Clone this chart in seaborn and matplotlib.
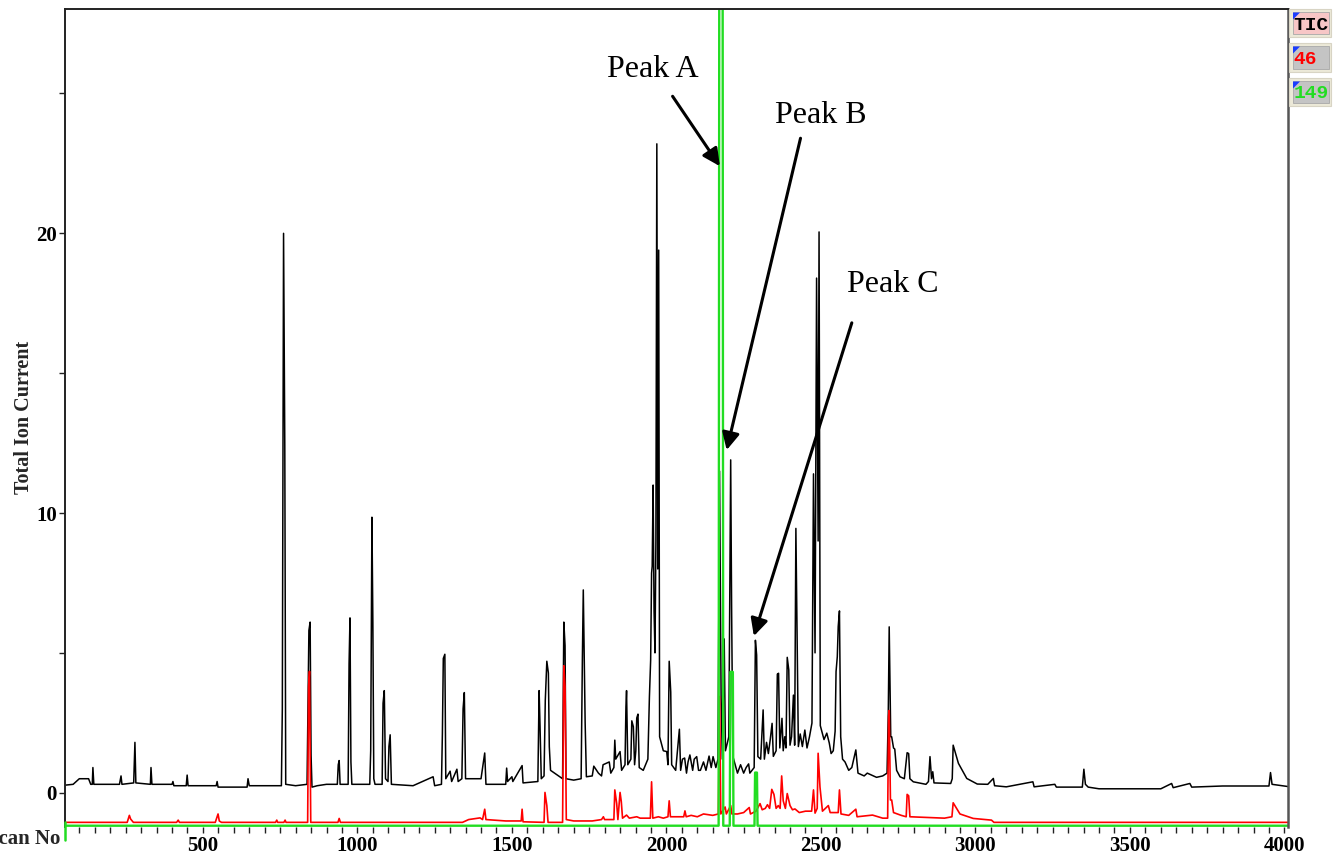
import matplotlib
matplotlib.use('Agg')
import numpy as np
import pandas as pd
import matplotlib.pyplot as plt
import seaborn as sns
from matplotlib.ticker import MultipleLocator
from matplotlib.patches import Rectangle, Polygon
from matplotlib.lines import Line2D

# ---------------- data ----------------
tic_scan = [54, 80, 100, 130, 137, 142, 144, 147, 230, 235, 238, 276, 280, 283, 330, 332, 335,
            400, 403, 406, 446, 449, 452, 543, 546, 549, 643, 646, 650, 754, 757, 761, 765, 768,
            800, 837, 840, 843, 847, 850, 853, 870, 900, 935, 938, 941, 944, 970, 973, 976, 979,
            982, 1040, 1043, 1047, 1050, 1053, 1057, 1080, 1083, 1087, 1091, 1099, 1102, 1106,
            1110, 1180, 1245, 1250, 1272, 1275, 1278, 1283, 1286, 1300, 1305, 1322, 1326, 1338,
            1342, 1346, 1350, 1400, 1412, 1416, 1480, 1483, 1486, 1500, 1503, 1533, 1536, 1584,
            1588, 1591, 1595, 1604, 1608, 1613, 1618, 1621, 1625, 1664, 1668, 1672, 1675, 1700,
            1724, 1728, 1731, 1737, 1741, 1760, 1765, 1780, 1790, 1795, 1815, 1820, 1830, 1833,
            1836, 1850, 1855, 1866, 1869, 1871, 1875, 1885, 1888, 1893, 1897, 1901, 1904, 1908,
            1912, 1925, 1940, 1945, 1949, 1952, 1954, 1957, 1960, 1963, 1966, 1969, 1972, 1975,
            1978, 1990, 2001, 2005, 2009, 2014, 2017, 2030, 2042, 2046, 2052, 2059, 2065, 2070,
            2076, 2085, 2090, 2098, 2104, 2110, 2120, 2128, 2138, 2145, 2151, 2160, 2167, 2172,
            2177, 2181, 2187, 2191, 2202, 2208, 2211, 2215, 2230, 2240, 2250, 2258, 2266, 2270,
            2284, 2288, 2292, 2296, 2305, 2313, 2317, 2324, 2330, 2336, 2342, 2346, 2355, 2359,
            2363, 2367, 2374, 2378, 2383, 2387, 2391, 2396, 2400, 2405, 2411, 2415, 2419, 2423,
            2427, 2433, 2440, 2448, 2455, 2463, 2471, 2476, 2481, 2486, 2491, 2494, 2498, 2510,
            2519, 2527, 2533, 2540, 2546, 2549, 2553, 2556, 2560, 2564, 2570, 2578, 2590, 2600,
            2613, 2620, 2640, 2650, 2680, 2700, 2714, 2718, 2721, 2726, 2729, 2735, 2739, 2745,
            2756, 2770, 2779, 2784, 2788, 2799, 2840, 2848, 2853, 2858, 2862, 2866, 2920, 2925,
            2928, 2945, 2972, 3006, 3040, 3058, 3062, 3100, 3186, 3190, 3257, 3262, 3346, 3351,
            3356, 3365, 3400, 3600, 3635, 3640, 3694, 3700, 3800, 3950, 3955, 3960, 4012]
tic_val = [0.27, 0.3, 0.5, 0.5, 0.3, 0.3, 0.9, 0.3, 0.3, 0.6, 0.3, 0.35, 1.8, 0.35, 0.3, 0.9, 0.3,
           0.3, 0.4, 0.25, 0.25, 0.63, 0.25, 0.25, 0.4, 0.2, 0.2, 0.5, 0.25, 0.25, 3.0, 20.0, 12.4, 0.3,
           0.25, 0.3, 3.2, 5.8, 6.1, 1.35, 0.2, 0.25, 0.3, 0.3, 1.0, 1.15, 0.3, 0.3, 4.6, 6.25, 1.1,
           0.3, 0.3, 1.5, 9.85, 6.1, 0.5, 0.3, 0.3, 3.2, 3.65, 0.5, 0.4, 1.65, 2.07,
           0.3, 0.25, 0.57, 0.25, 0.3, 2.1, 4.8, 4.95, 0.5, 0.77, 0.4, 0.84, 0.4, 0.5,
           3.0, 3.58, 0.5, 0.5, 1.42, 0.3, 0.3, 0.88, 0.4, 0.57, 0.4, 0.97, 0.35, 0.4,
           3.65, 2.38, 0.5, 0.6, 3.3, 4.7, 4.28, 1.65, 0.8, 0.5, 6.1, 5.26, 0.5, 0.45,
           0.5, 4.74, 7.25, 2.5, 0.57, 0.6, 0.95, 0.7, 0.6, 1.0, 1.1, 0.7, 0.9, 1.88,
           1.2, 1.47, 0.8, 1.0, 3.07, 3.65, 1.0, 1.2, 2.57, 2.36, 1.0, 1.5, 2.67, 2.81,
           0.9, 0.8, 1.2, 3.43, 4.74, 7.85, 8.1, 11.0, 6.5, 5.0, 9.0, 23.2, 8.0, 19.4,
           2.0, 1.5, 1.47, 1.0, 4.7, 3.6, 1.0, 0.8, 2.27, 0.8, 1.2, 1.24, 0.7, 1.1,
           1.35, 0.8, 1.2, 1.29, 0.8, 0.8, 1.1, 0.8, 1.31, 0.9, 1.29, 0.9, 1.2, 11.5,
           3.4, 1.2, 5.5, 1.5, 2.0, 11.9, 6.6, 1.3, 0.7, 1.0, 0.7, 0.9, 1.03, 0.7,
           0.9, 5.45, 4.92, 1.29, 1.2, 2.96, 1.2, 1.8, 1.4, 1.9, 2.48, 1.3, 1.5, 4.24,
           4.27, 1.6, 2.66, 1.5, 2.0, 1.6, 4.84, 4.39, 1.7, 2.0, 3.49, 1.7, 9.45, 5.7,
           1.65, 2.1, 1.65, 2.24, 1.6, 2.0, 2.49, 11.4, 5.0, 18.4, 9.0, 20.05, 2.4, 1.9,
           2.13, 1.78, 1.4, 1.5, 2.2, 4.33, 4.86, 5.94, 6.5, 2.0, 1.2, 1.1, 0.8, 0.9,
           1.53, 0.7, 0.6, 0.7, 0.55, 0.6, 0.7, 2.84, 5.93, 2.0, 2.0, 1.6, 1.56, 0.8,
           0.57, 0.5, 1.43, 1.4, 0.5, 0.39, 0.3, 0.4, 1.29, 0.5, 0.75, 0.35, 0.33, 0.5,
           1.7, 1.05, 0.51, 0.31, 0.3, 0.51, 0.25, 0.21, 0.39, 0.21, 0.3, 0.2, 0.2, 0.84,
           0.3, 0.2, 0.14, 0.14, 0.33, 0.18, 0.33, 0.2, 0.24, 0.24, 0.72, 0.3, 0.22]

ion46_scan = [54, 255, 262, 266, 275, 415, 420, 424, 540, 546, 549, 553, 560, 735, 739, 742, 762,
              766, 769, 839, 842, 845, 849, 937, 941, 945, 1340, 1360, 1397, 1405, 1412, 1416,
              1480, 1530, 1533, 1536, 1604, 1607, 1613, 1617, 1664, 1668, 1672, 1676, 1700, 1760,
              1790, 1796, 1800, 1830, 1833, 1839, 1843, 1850, 1854, 1858, 1871, 1880, 1904, 1915,
              1948, 1952, 1956, 1974, 1990, 2005, 2009, 2013, 2044, 2056, 2060, 2064, 2080, 2100,
              2120, 2150, 2168, 2172, 2176, 2190, 2194, 2208, 2212, 2230, 2250, 2268, 2272, 2290,
              2303, 2310, 2320, 2327, 2334, 2341, 2348, 2355, 2362, 2368, 2373, 2378, 2385, 2391,
              2400, 2408, 2416, 2430, 2450, 2470, 2476, 2481, 2488, 2491, 2497, 2505, 2524, 2530,
              2556, 2560, 2565, 2590, 2613, 2617, 2667, 2700, 2716, 2719, 2721, 2725, 2729, 2735,
              2760, 2776, 2779, 2784, 2788, 2900, 2924, 2928, 2950, 2993, 3052, 3060, 4012]
ion46_val = [0, 0, 0.25, 0.12, 0, 0, 0.08, 0, 0, 0.2, 0.3, 0.05, 0, 0, 0.08, 0, 0,
             0.08, 0, 0, 4.85, 5.4, 0, 0, 0.14, 0, 0, 0.1, 0.16, 0.1, 0.47, 0.1,
             0.05, 0.05, 0.47, 0.02, 0, 1.07, 0.6, 0, 0, 5.6, 4.85, 0.1, 0.05, 0.05,
             0.1, 0.2, 0.1, 0.1, 1.16, 0.68, 0.1, 1.07, 0.74, 0.15, 0.26, 0.15, 0.2, 0.15,
             0.15, 1.45, 0.15, 0.2, 0.15, 0.2, 0.77, 0.2, 0.2, 0.2, 0.41, 0.2, 0.25, 0.2,
             0.3, 0.25, 0.3, 4.5, 0.3, 0.55, 0.3, 0.6, 0.3, 0.3, 0.35, 0.53, 0.3, 0.4,
             0.67, 0.45, 0.5, 0.63, 0.5, 1.18, 1.0, 0.5, 0.6, 0.5, 1.66, 0.77, 0.5, 1.03,
             0.6, 0.45, 0.48, 0.35, 0.4, 0.4, 1.16, 0.33, 0.5, 2.47, 1.26, 0.4, 0.6, 0.35,
             0.35, 1.16, 0.3, 0.25, 0.47, 0.2, 0.26, 0.15, 0.15, 3.8, 4.0, 0.8, 0.8, 0.35,
             0.25, 0.2, 1.0, 0.95, 0.2, 0.15, 0.2, 0.7, 0.3, 0.14, 0.08, 0, 0]

ion149_scan = [54, 2169, 2171, 2182, 2184, 2205, 2207, 2215, 2217, 2285, 2287, 2293, 2295, 4012]
ion149_val = [0, 0, 30, 30, 0, 0, 5.5, 5.5, 0, 0, 1.9, 1.9, 0, 0]

trace_names = ['TIC', '46', '149']
x_tick_values = [500, 1000, 1500, 2000, 2500, 3000, 3500, 4000]
y_tick_values = [0, 10, 20]

peak_names = ['Peak A', 'Peak B', 'Peak C']
peak_text_xy = [(1808, 25.6), (2351, 23.95), (2584, 17.9)]
peak_tail_xy = [(2020, 24.9), (2434, 23.4), (2600, 16.8)]
peak_head_xy = [(2173, 22.4), (2195, 12.25), (2283, 5.6)]

# trace offsets (stacked display of the ion traces)
ion46_offset = -1.06
ion149_offset = -1.18

# ---------------- style ----------------
sns.set_style('white')
plt.rcParams['font.family'] = ['Liberation Serif', 'DejaVu Serif']

W, H = 1342, 855
fig = plt.figure(figsize=(W / 100, H / 100), dpi=100)
ax_left, ax_right, ax_top, ax_bot = 65, 1288, 9.3, 827
ax = fig.add_axes([ax_left / W, 1 - ax_bot / H, (ax_right - ax_left) / W, (ax_bot - ax_top) / H])

tic_df = pd.DataFrame({'scan': tic_scan, 'val': tic_val})
i46_df = pd.DataFrame({'scan': ion46_scan, 'val': np.array(ion46_val) + ion46_offset})
i149_df = pd.DataFrame({'scan': ion149_scan, 'val': np.array(ion149_val) + ion149_offset})

sns.lineplot(data=tic_df, x='scan', y='val', ax=ax, color='black', lw=1.1,
             estimator=None, sort=False)
sns.lineplot(data=i46_df, x='scan', y='val', ax=ax, color='#ff0000', lw=1.2,
             estimator=None, sort=False)
sns.lineplot(data=i149_df, x='scan', y='val', ax=ax, color='#22dd22', lw=1.7,
             estimator=None, sort=False)

ax.set_xlim(53.7, 4011.6)
ax.set_ylim(-1.226, 28.01)
ax.set_xlabel('')
ax.set_ylabel('')

ax.set_xticks(x_tick_values)
ax.set_xticklabels([str(v) for v in x_tick_values])
ax.xaxis.set_minor_locator(MultipleLocator(50))
ax.set_yticks(y_tick_values)
ax.set_yticklabels([str(v) for v in y_tick_values])
ax.yaxis.set_minor_locator(MultipleLocator(5))
ax.tick_params(which='both', direction='out', length=4, width=1.0, color='#222222',
               bottom=True, left=True, top=False, right=False)
ax.tick_params(axis='x', which='major', pad=2.5)
ax.tick_params(axis='y', which='major', pad=2)
for lab in ax.get_xticklabels() + ax.get_yticklabels():
    lab.set_fontweight('bold')
    lab.set_fontsize(15)
    lab.set_color('black')

for side in ['left', 'top']:
    ax.spines[side].set_color('#222222')
    ax.spines[side].set_linewidth(1.4)
ax.spines['right'].set_color('#555555')
ax.spines['right'].set_linewidth(1.8)
ax.spines['bottom'].set_visible(False)

# annotations
for name, txy, tail, head in zip(peak_names, peak_text_xy, peak_tail_xy, peak_head_xy):
    ax.text(txy[0], txy[1], name, fontsize=23, va='baseline', ha='left', color='black')
    ax.annotate('', xy=head, xytext=tail,
                arrowprops=dict(arrowstyle='-|>', color='black', lw=2.2,
                                mutation_scale=26, shrinkA=0, shrinkB=0))

# axis titles
fig.text(60 / W, 1 - 839 / H, 'Scan No', ha='right', va='center', fontsize=15,
         fontweight='bold')
fig.text(24 / W, 1 - 417 / H, 'Total Ion Current', rotation=90, ha='center', va='center',
         fontsize=14.5, fontweight='bold')

# small green tail under the left spine
fig.add_artist(Line2D([64.5 / W, 64.5 / W], [1 - 822 / H, 1 - 840 / H],
                      transform=fig.transFigure, color='#22dd22', lw=1.8))


# trace selector boxes (top right)
def px_rect(x0, y0, x1, y1, **kw):
    return Rectangle((x0 / W, 1 - y1 / H), (x1 - x0) / W, (y1 - y0) / H,
                     transform=fig.transFigure, **kw)


box_specs = [(9, 37, '#f7c6c6', 'black'), (43, 72, '#c4c4c4', '#ff0000'),
             (78, 106, '#c4c4c4', '#22dd22')]
for (y0, y1, bg, fg), name in zip(box_specs, trace_names):
    fig.add_artist(px_rect(1289, y0, 1331, y1, facecolor='#ece9d8', edgecolor='#d8d4c4', lw=0.8))
    fig.add_artist(px_rect(1292.5, y0 + 3, 1328.5, y1 - 2.5, facecolor=bg, edgecolor='#a8a8a8',
                           lw=0.6))
    tri = Polygon([(1293 / W, 1 - (y0 + 3.5) / H), (1300 / W, 1 - (y0 + 3.5) / H),
                   (1293 / W, 1 - (y0 + 10.5) / H)], closed=True, transform=fig.transFigure,
                  facecolor='#1a3cff', edgecolor='none')
    fig.add_artist(tri)
    fig.text(1293.5 / W, 1 - ((y0 + y1) / 2 + 2) / H, name, ha='left', va='center',
             fontsize=14, fontweight='bold', color=fg, family=['Liberation Mono', 'DejaVu Sans Mono'])

fig.savefig('out.png', dpi=100)
